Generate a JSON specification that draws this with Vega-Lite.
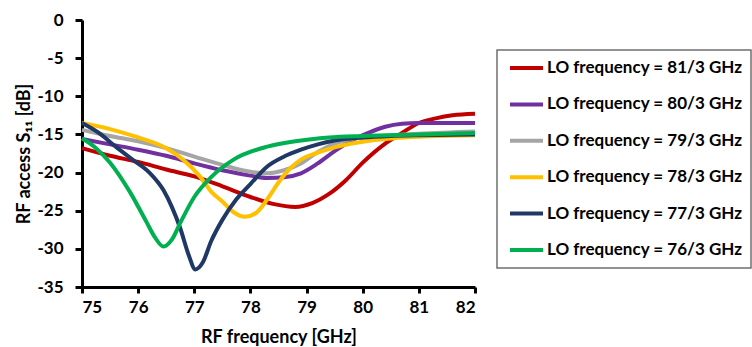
{
  "$schema": "https://vega.github.io/schema/vega-lite/v6.json",
  "width": 393,
  "height": 267,
  "autosize": {"type": "none"},
  "padding": {"left": 82, "top": 20, "right": 277, "bottom": 60},
  "config": {
    "view": {"stroke": null},
    "font": "Lato",
    "axis": {
      "grid": false,
      "domainColor": "#000000",
      "domainWidth": 3,
      "tickColor": "#000000",
      "tickWidth": 3,
      "tickSize": 6,
      "labelFont": "Lato",
      "labelFontSize": 17,
      "labelFontWeight": "bold",
      "labelColor": "#000000",
      "titleFont": "Lato",
      "titleFontSize": 18,
      "titleFontWeight": "bold",
      "titleColor": "#000000"
    },
    "legend": {
      "strokeColor": "#6f6f6f",
      "strokeWidth": 1.5,
      "fillColor": "#ffffff",
      "padding": 8,
      "symbolType": "stroke",
      "symbolStrokeWidth": 4,
      "symbolSize": 1089,
      "symbolOffset": 3,
      "clipHeight": 20,
      "labelFont": "Lato",
      "labelFontSize": 17,
      "labelFontWeight": "bold",
      "labelColor": "#000000",
      "labelOffset": 2,
      "labelLimit": 400,
      "rowPadding": 16.4
    }
  },
  "data": {
    "values": [
      {"f": 75, "s": -16.8, "lo": "LO frequency = 81/3 GHz"},
      {"f": 75.5, "s": -17.8, "lo": "LO frequency = 81/3 GHz"},
      {"f": 76, "s": -18.6, "lo": "LO frequency = 81/3 GHz"},
      {"f": 76.5, "s": -19.6, "lo": "LO frequency = 81/3 GHz"},
      {"f": 77, "s": -20.5, "lo": "LO frequency = 81/3 GHz"},
      {"f": 77.5, "s": -21.8, "lo": "LO frequency = 81/3 GHz"},
      {"f": 78, "s": -23.2, "lo": "LO frequency = 81/3 GHz"},
      {"f": 78.4, "s": -24.1, "lo": "LO frequency = 81/3 GHz"},
      {"f": 78.8, "s": -24.5, "lo": "LO frequency = 81/3 GHz"},
      {"f": 79.1, "s": -24.0, "lo": "LO frequency = 81/3 GHz"},
      {"f": 79.4, "s": -22.8, "lo": "LO frequency = 81/3 GHz"},
      {"f": 79.7, "s": -21.0, "lo": "LO frequency = 81/3 GHz"},
      {"f": 80, "s": -18.7, "lo": "LO frequency = 81/3 GHz"},
      {"f": 80.4, "s": -16.2, "lo": "LO frequency = 81/3 GHz"},
      {"f": 80.7, "s": -14.8, "lo": "LO frequency = 81/3 GHz"},
      {"f": 81, "s": -13.5, "lo": "LO frequency = 81/3 GHz"},
      {"f": 81.3, "s": -12.9, "lo": "LO frequency = 81/3 GHz"},
      {"f": 81.6, "s": -12.5, "lo": "LO frequency = 81/3 GHz"},
      {"f": 82, "s": -12.3, "lo": "LO frequency = 81/3 GHz"},

      {"f": 75, "s": -15.6, "lo": "LO frequency = 80/3 GHz"},
      {"f": 75.5, "s": -16.3, "lo": "LO frequency = 80/3 GHz"},
      {"f": 76, "s": -17.0, "lo": "LO frequency = 80/3 GHz"},
      {"f": 76.5, "s": -17.8, "lo": "LO frequency = 80/3 GHz"},
      {"f": 77, "s": -18.8, "lo": "LO frequency = 80/3 GHz"},
      {"f": 77.5, "s": -19.7, "lo": "LO frequency = 80/3 GHz"},
      {"f": 78, "s": -20.4, "lo": "LO frequency = 80/3 GHz"},
      {"f": 78.3, "s": -20.7, "lo": "LO frequency = 80/3 GHz"},
      {"f": 78.6, "s": -20.6, "lo": "LO frequency = 80/3 GHz"},
      {"f": 78.9, "s": -20.1, "lo": "LO frequency = 80/3 GHz"},
      {"f": 79.2, "s": -18.8, "lo": "LO frequency = 80/3 GHz"},
      {"f": 79.5, "s": -17.2, "lo": "LO frequency = 80/3 GHz"},
      {"f": 79.8, "s": -15.8, "lo": "LO frequency = 80/3 GHz"},
      {"f": 80.1, "s": -14.8, "lo": "LO frequency = 80/3 GHz"},
      {"f": 80.4, "s": -14.0, "lo": "LO frequency = 80/3 GHz"},
      {"f": 80.7, "s": -13.6, "lo": "LO frequency = 80/3 GHz"},
      {"f": 81, "s": -13.5, "lo": "LO frequency = 80/3 GHz"},
      {"f": 81.5, "s": -13.5, "lo": "LO frequency = 80/3 GHz"},
      {"f": 82, "s": -13.5, "lo": "LO frequency = 80/3 GHz"},

      {"f": 75, "s": -14.4, "lo": "LO frequency = 79/3 GHz"},
      {"f": 75.5, "s": -15.2, "lo": "LO frequency = 79/3 GHz"},
      {"f": 76, "s": -15.9, "lo": "LO frequency = 79/3 GHz"},
      {"f": 76.5, "s": -16.8, "lo": "LO frequency = 79/3 GHz"},
      {"f": 77, "s": -17.9, "lo": "LO frequency = 79/3 GHz"},
      {"f": 77.5, "s": -19.0, "lo": "LO frequency = 79/3 GHz"},
      {"f": 78, "s": -19.9, "lo": "LO frequency = 79/3 GHz"},
      {"f": 78.3, "s": -20.1, "lo": "LO frequency = 79/3 GHz"},
      {"f": 78.6, "s": -19.7, "lo": "LO frequency = 79/3 GHz"},
      {"f": 78.9, "s": -18.8, "lo": "LO frequency = 79/3 GHz"},
      {"f": 79.2, "s": -17.3, "lo": "LO frequency = 79/3 GHz"},
      {"f": 79.5, "s": -16.2, "lo": "LO frequency = 79/3 GHz"},
      {"f": 79.8, "s": -15.6, "lo": "LO frequency = 79/3 GHz"},
      {"f": 80.2, "s": -15.3, "lo": "LO frequency = 79/3 GHz"},
      {"f": 81, "s": -14.9, "lo": "LO frequency = 79/3 GHz"},
      {"f": 82, "s": -14.6, "lo": "LO frequency = 79/3 GHz"},

      {"f": 75, "s": -13.5, "lo": "LO frequency = 78/3 GHz"},
      {"f": 75.5, "s": -14.3, "lo": "LO frequency = 78/3 GHz"},
      {"f": 76, "s": -15.4, "lo": "LO frequency = 78/3 GHz"},
      {"f": 76.5, "s": -16.8, "lo": "LO frequency = 78/3 GHz"},
      {"f": 76.8, "s": -18.3, "lo": "LO frequency = 78/3 GHz"},
      {"f": 77.1, "s": -20.5, "lo": "LO frequency = 78/3 GHz"},
      {"f": 77.3, "s": -22.5, "lo": "LO frequency = 78/3 GHz"},
      {"f": 77.5, "s": -23.8, "lo": "LO frequency = 78/3 GHz"},
      {"f": 77.7, "s": -25.2, "lo": "LO frequency = 78/3 GHz"},
      {"f": 77.9, "s": -25.8, "lo": "LO frequency = 78/3 GHz"},
      {"f": 78.1, "s": -25.3, "lo": "LO frequency = 78/3 GHz"},
      {"f": 78.3, "s": -23.5, "lo": "LO frequency = 78/3 GHz"},
      {"f": 78.5, "s": -21.3, "lo": "LO frequency = 78/3 GHz"},
      {"f": 78.7, "s": -19.5, "lo": "LO frequency = 78/3 GHz"},
      {"f": 78.9, "s": -18.3, "lo": "LO frequency = 78/3 GHz"},
      {"f": 79.2, "s": -17.4, "lo": "LO frequency = 78/3 GHz"},
      {"f": 79.5, "s": -16.7, "lo": "LO frequency = 78/3 GHz"},
      {"f": 79.8, "s": -16.2, "lo": "LO frequency = 78/3 GHz"},
      {"f": 80.4, "s": -15.6, "lo": "LO frequency = 78/3 GHz"},
      {"f": 81, "s": -15.3, "lo": "LO frequency = 78/3 GHz"},
      {"f": 82, "s": -15.1, "lo": "LO frequency = 78/3 GHz"},

      {"f": 75, "s": -13.5, "lo": "LO frequency = 77/3 GHz"},
      {"f": 75.3, "s": -14.8, "lo": "LO frequency = 77/3 GHz"},
      {"f": 75.6, "s": -16.6, "lo": "LO frequency = 77/3 GHz"},
      {"f": 75.9, "s": -18.3, "lo": "LO frequency = 77/3 GHz"},
      {"f": 76.2, "s": -20.0, "lo": "LO frequency = 77/3 GHz"},
      {"f": 76.45, "s": -22.3, "lo": "LO frequency = 77/3 GHz"},
      {"f": 76.6, "s": -24.5, "lo": "LO frequency = 77/3 GHz"},
      {"f": 76.75, "s": -27.3, "lo": "LO frequency = 77/3 GHz"},
      {"f": 76.9, "s": -30.8, "lo": "LO frequency = 77/3 GHz"},
      {"f": 77.02, "s": -32.7, "lo": "LO frequency = 77/3 GHz"},
      {"f": 77.15, "s": -31.8, "lo": "LO frequency = 77/3 GHz"},
      {"f": 77.3, "s": -29.0, "lo": "LO frequency = 77/3 GHz"},
      {"f": 77.5, "s": -26.2, "lo": "LO frequency = 77/3 GHz"},
      {"f": 77.75, "s": -23.5, "lo": "LO frequency = 77/3 GHz"},
      {"f": 78, "s": -21.5, "lo": "LO frequency = 77/3 GHz"},
      {"f": 78.3, "s": -19.2, "lo": "LO frequency = 77/3 GHz"},
      {"f": 78.6, "s": -17.9, "lo": "LO frequency = 77/3 GHz"},
      {"f": 78.9, "s": -17.0, "lo": "LO frequency = 77/3 GHz"},
      {"f": 79.2, "s": -16.3, "lo": "LO frequency = 77/3 GHz"},
      {"f": 79.5, "s": -15.8, "lo": "LO frequency = 77/3 GHz"},
      {"f": 80, "s": -15.4, "lo": "LO frequency = 77/3 GHz"},
      {"f": 80.5, "s": -15.2, "lo": "LO frequency = 77/3 GHz"},
      {"f": 81, "s": -15.1, "lo": "LO frequency = 77/3 GHz"},
      {"f": 82, "s": -15.0, "lo": "LO frequency = 77/3 GHz"},

      {"f": 75, "s": -15.5, "lo": "LO frequency = 76/3 GHz"},
      {"f": 75.25, "s": -16.8, "lo": "LO frequency = 76/3 GHz"},
      {"f": 75.5, "s": -18.7, "lo": "LO frequency = 76/3 GHz"},
      {"f": 75.85, "s": -22.5, "lo": "LO frequency = 76/3 GHz"},
      {"f": 76.15, "s": -26.5, "lo": "LO frequency = 76/3 GHz"},
      {"f": 76.3, "s": -28.5, "lo": "LO frequency = 76/3 GHz"},
      {"f": 76.45, "s": -29.7, "lo": "LO frequency = 76/3 GHz"},
      {"f": 76.6, "s": -28.8, "lo": "LO frequency = 76/3 GHz"},
      {"f": 76.75, "s": -26.6, "lo": "LO frequency = 76/3 GHz"},
      {"f": 77, "s": -23.2, "lo": "LO frequency = 76/3 GHz"},
      {"f": 77.3, "s": -20.6, "lo": "LO frequency = 76/3 GHz"},
      {"f": 77.7, "s": -18.3, "lo": "LO frequency = 76/3 GHz"},
      {"f": 78.3, "s": -16.6, "lo": "LO frequency = 76/3 GHz"},
      {"f": 78.8, "s": -15.9, "lo": "LO frequency = 76/3 GHz"},
      {"f": 79.4, "s": -15.4, "lo": "LO frequency = 76/3 GHz"},
      {"f": 80, "s": -15.2, "lo": "LO frequency = 76/3 GHz"},
      {"f": 81, "s": -15.0, "lo": "LO frequency = 76/3 GHz"},
      {"f": 82, "s": -14.8, "lo": "LO frequency = 76/3 GHz"}
    ]
  },
  "mark": {"type": "line", "interpolate": "monotone", "strokeWidth": 4},
  "encoding": {
    "x": {
      "field": "f",
      "type": "quantitative",
      "scale": {"domain": [75, 82], "nice": false},
      "axis": {"values": [75, 76, 77, 78, 79, 80, 81, 82], "title": "RF frequency [GHz]", "labelPadding": 6, "titlePadding": 13}
    },
    "y": {
      "field": "s",
      "type": "quantitative",
      "scale": {"domain": [-35, 0], "nice": false},
      "axis": {"values": [0, -5, -10, -15, -20, -25, -30, -35], "labelExpr": "toString(datum.value)", "title": "RF access S₁₁ [dB]", "labelPadding": 12, "tickSize": 7, "titlePadding": 3}
    },
    "color": {
      "field": "lo",
      "type": "nominal",
      "scale": {
        "domain": ["LO frequency = 81/3 GHz", "LO frequency = 80/3 GHz", "LO frequency = 79/3 GHz", "LO frequency = 78/3 GHz", "LO frequency = 77/3 GHz", "LO frequency = 76/3 GHz"],
        "range": ["#C00000", "#7030A0", "#A5A5A5", "#FFC000", "#203864", "#00B050"]
      },
      "legend": {"title": null, "orient": "none", "legendX": 415, "legendY": 30}
    }
  }
}
